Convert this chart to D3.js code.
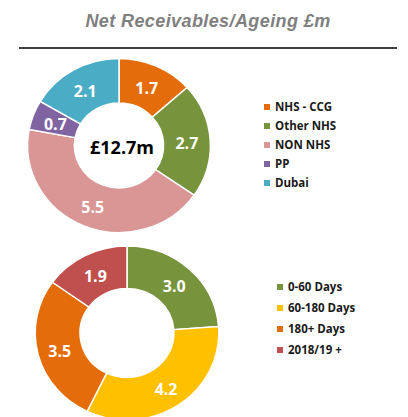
<!DOCTYPE html>
<html>
<head>
<meta charset="utf-8">
<script src="https://cdn.jsdelivr.net/npm/d3@7"></script>
<style>
  html, body { margin: 0; padding: 0; background: #fff; }
  svg { display: block; }
</style>
</head>
<body>
<svg id="chart" width="408" height="417"></svg>
<script>
// Receivables by customer group (£m)
const groupNames = ["NHS - CCG", "Other NHS", "NON NHS", "PP", "Dubai"];
const groupValues = [1.7, 2.7, 5.5, 0.7, 2.1];
const groupColors = ["#E46C0A", "#77933C", "#D99694", "#8064A2", "#4BACC6"];
const groupTotalLabel = "£12.7m";

// Receivables by age band (£m)
const ageNames = ["0-60 Days", "60-180 Days", "180+ Days", "2018/19 +"];
const ageValues = [3.0, 4.2, 3.5, 1.9];
const ageColors = ["#77933C", "#FFC000", "#E46C0A", "#C0504D"];

const titleText = "Net Receivables/Ageing £m";

const svg = d3.select("#chart");
const labelFont = "'Open Sans', 'Noto Sans', sans-serif";

// Title and rule
svg.append("text")
  .attr("x", 208).attr("y", 27)
  .attr("text-anchor", "middle")
  .attr("font-family", "'Liberation Sans', Arial, sans-serif")
  .attr("font-size", 18).attr("font-weight", "bold").attr("font-style", "italic")
  .attr("letter-spacing", 0.4)
  .attr("fill", "#7F7F7F")
  .text(titleText);

svg.append("line")
  .attr("x1", 19).attr("x2", 397).attr("y1", 48).attr("y2", 48)
  .attr("stroke", "#000").attr("stroke-width", 1.3);

function donut(opts) {
  const { names, values, colors, cx, cy, rOuter, rInner, sx, legendX, legendY, legendStep, center } = opts;
  const pie = d3.pie().sort(null).value(d => d)(values);
  const arc = d3.arc().innerRadius(rInner).outerRadius(rOuter);
  const labelArc = d3.arc().innerRadius((rInner + rOuter) / 2).outerRadius((rInner + rOuter) / 2);

  const g = svg.append("g").attr("transform", `translate(${cx},${cy}) scale(${sx},1)`);
  g.selectAll("path").data(pie).join("path")
    .attr("d", arc)
    .attr("fill", (d, i) => colors[i])
    .attr("stroke", "#fff")
    .attr("stroke-width", 1.4);

  const lg = svg.append("g").attr("transform", `translate(${cx},${cy})`);
  lg.selectAll("text").data(pie).join("text")
    .attr("x", d => labelArc.centroid(d)[0] * sx)
    .attr("y", d => labelArc.centroid(d)[1] + 2)
    .attr("dy", "0.35em")
    .attr("text-anchor", "middle")
    .attr("font-family", labelFont)
    .attr("font-weight", "bold")
    .attr("font-size", 16)
    .attr("fill", "#fff")
    .text(d => d3.format(".1f")(d.data));

  if (center) {
    lg.append("text")
      .attr("x", 3).attr("y", 2).attr("dy", "0.35em")
      .attr("text-anchor", "middle")
      .attr("font-family", labelFont)
      .attr("font-weight", "bold").attr("font-size", 18)
      .attr("fill", "#000")
      .text(center);
  }

  const leg = svg.append("g");
  const rows = leg.selectAll("g").data(names).join("g")
    .attr("transform", (d, i) => `translate(${legendX},${legendY + i * legendStep})`);
  rows.append("rect")
    .attr("x", 0).attr("y", -3).attr("width", 6).attr("height", 6)
    .attr("fill", (d, i) => colors[i]);
  rows.append("text")
    .attr("x", 11).attr("y", 0).attr("dy", "0.35em")
    .attr("font-family", labelFont)
    .attr("font-weight", "bold").attr("font-size", 11.5)
    .attr("fill", "#1a1a1a")
    .text(d => d);
}

donut({
  names: groupNames, values: groupValues, colors: groupColors,
  cx: 119, cy: 145.5, rOuter: 87, rInner: 42.5, sx: 1.05,
  legendX: 264, legendY: 107, legendStep: 19, center: groupTotalLabel
});

donut({
  names: ageNames, values: ageValues, colors: ageColors,
  cx: 127, cy: 333, rOuter: 87, rInner: 44.5, sx: 1.055,
  legendX: 277, legendY: 287, legendStep: 21
});
</script>
</body>
</html>
